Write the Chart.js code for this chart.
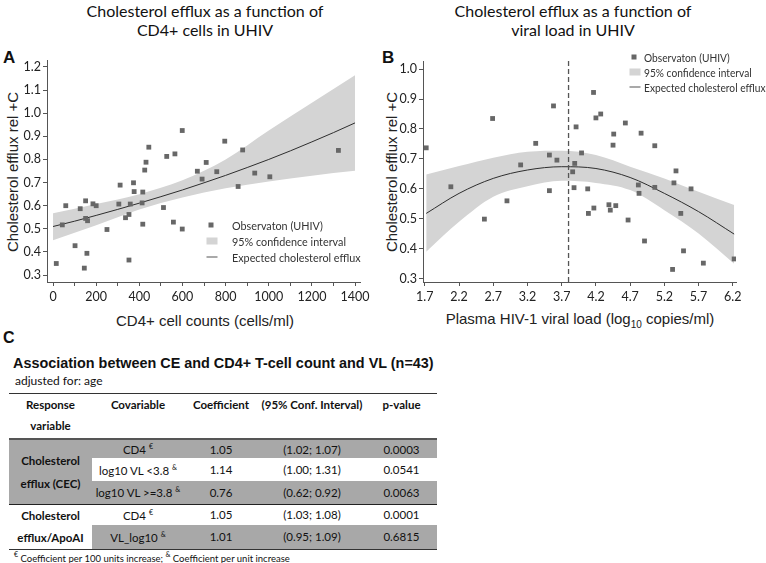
<!DOCTYPE html>
<html>
<head>
<meta charset="utf-8">
<script src="https://cdn.jsdelivr.net/npm/chart.js@4.4.1/dist/chart.umd.min.js"></script>
<style>
  body { margin: 0; background: #fff; width: 766px; height: 563px; position: relative; overflow: hidden; font-family: Lato, sans-serif; color: #111; }
  .abs { position: absolute; white-space: nowrap; }
  .title { font-family: Lato, sans-serif; font-size: 16px; text-align: center; transform: translate(-50%, -50%); line-height: 19px; color: #111; }
  .letter { font-family: "Liberation Sans", Arial, sans-serif; font-weight: bold; font-size: 17px; transform: translateY(-50%); }
  .axtitle { font-family: "Liberation Sans", Arial, sans-serif; font-size: 15px; transform: translate(-50%, -50%); color: #222; }
  .axtitle.v { transform: translate(-50%, -50%) rotate(-90deg); }
  .legend div { position: absolute; white-space: nowrap; font-size: 12px; color: #333; transform-origin: left center; }
  .sw { position: absolute; transform: translate(-50%, -50%); }
  canvas { position: absolute; }
  table { position: absolute; left: 9px; top: 393px; width: 428px; border-collapse: collapse; table-layout: fixed; font-family: Lato, sans-serif; font-size: 11.5px; }
  td, th { padding: 0; text-align: center; }
  th { font-weight: bold; vertical-align: top; height: 44px; line-height: 21px; }
  .g { background: #a8a8a8; }
  .b { font-weight: bold; }
  sup { font-size: 7px; vertical-align: 5px; }
</style>
</head>
<body>

<div class="abs title" style="left:205px; top:20px;">Cholesterol efflux as a function of<br>CD4+ cells in UHIV</div>
<div class="abs title" style="left:573px; top:20px;">Cholesterol efflux as a function of<br>viral load in UHIV</div>

<div class="abs letter" style="left:3px; top:58px;">A</div>
<div class="abs letter" style="left:382px; top:58px;">B</div>

<div class="abs axtitle v" style="left:12px; top:172px;">Cholesterol efflux rel +C</div>
<div class="abs axtitle v" style="left:391px; top:172px;">Cholesterol efflux rel +C</div>
<div class="abs axtitle" style="left:205px; top:320px;">CD4+ cell counts (cells/ml)</div>
<div class="abs axtitle" style="left:580px; top:320px;">Plasma HIV-1 viral load (log<sub style="font-size:10px">10</sub> copies/ml)</div>

<canvas id="chartA" style="left:0px; top:40px;"></canvas>
<canvas id="chartB" style="left:383px; top:40px;"></canvas>

<div class="legend" id="legA"></div>
<div class="legend" id="legB"></div>

<div class="abs letter" style="left:3px; top:338px; font-size:16px;">C</div>
<div class="abs" style="left:13px; top:362px; transform:translateY(-50%) scaleX(0.96); transform-origin:left center; font-family:'Liberation Sans',Arial,sans-serif; font-weight:bold; font-size:15px;">Association between CE and CD4+ T-cell count and VL (n=43)</div>
<div class="abs" style="left:15px; top:380px; transform:translateY(-50%); font-size:12px;">adjusted for: age</div>

<table id="tbl">
  <colgroup><col style="width:83px"><col style="width:92px"><col style="width:74px"><col style="width:108px"><col style="width:71px"></colgroup>
  <thead>
    <tr style="border-top:1.5px solid #333; border-bottom:2px solid #555;">
      <th>Response<br>variable</th><th>Covariable</th><th>Coefficient</th><th>(95% Conf. Interval)</th><th>p-value</th>
    </tr>
  </thead>
  <tbody id="tbody"></tbody>
</table>
<div class="abs" style="left:14px; top:557px; transform:translateY(-50%); font-size:9.5px;"><sup>€</sup> Coefficient per 100 units increase; <sup>&amp;</sup> Coefficient per unit increase</div>

<script>
// panel A: CD4+ cell counts vs cholesterol efflux
const A_CD4 = [15, 43, 59, 102, 126, 145, 151, 151, 157, 160, 185, 200, 250, 305, 311, 336, 352, 352, 358, 373, 376, 413, 416, 416, 425, 431, 444, 512, 527, 558, 565, 599, 599, 669, 691, 710, 759, 796, 858, 879, 935, 1005, 1323]
const A_CE = [0.35, 0.517, 0.60, 0.427, 0.587, 0.33, 0.621, 0.545, 0.394, 0.535, 0.608, 0.60, 0.497, 0.607, 0.689, 0.548, 0.562, 0.365, 0.607, 0.699, 0.661, 0.612, 0.52, 0.659, 0.754, 0.788, 0.853, 0.592, 0.813, 0.529, 0.824, 0.925, 0.499, 0.749, 0.715, 0.787, 0.747, 0.879, 0.683, 0.841, 0.741, 0.725, 0.839]
const A_FIT_X = [0, 100, 200, 300, 400, 500, 600, 700, 800, 900, 1000, 1100, 1200, 1300, 1400]
const A_FIT = [0.51, 0.533, 0.558, 0.584, 0.611, 0.639, 0.668, 0.699, 0.731, 0.765, 0.80, 0.837, 0.876, 0.916, 0.958]
const A_CI_X = [0, 200, 400, 600, 800, 1000, 1200, 1400]
const A_CI_UP = [0.567, 0.607, 0.65, 0.71, 0.80, 0.925, 1.045, 1.164]
const A_CI_LO = [0.451, 0.515, 0.583, 0.635, 0.675, 0.705, 0.73, 0.751]
const A_X_TICKS = [0, 100, 200, 300, 400, 500, 600, 700, 800, 900, 1000, 1100, 1200, 1300, 1400]
const A_Y_TICKS = [0.3, 0.4, 0.5, 0.6, 0.7, 0.8, 0.9, 1.0, 1.1, 1.2]

// panel B: viral load vs cholesterol efflux
const B_VL = [1.72, 2.08, 2.57, 2.69, 2.90, 3.10, 3.32, 3.52, 3.52, 3.58, 3.63, 3.86, 3.88, 3.89, 3.91, 3.99, 4.08, 4.09, 4.165, 4.17, 4.20, 4.27, 4.39, 4.41, 4.45, 4.46, 4.49, 4.63, 4.67, 4.82, 4.83, 4.86, 4.91, 5.06, 5.06, 5.32, 5.34, 5.37, 5.44, 5.48, 5.59, 5.77, 6.22]
const B_CE = [0.737, 0.607, 0.499, 0.835, 0.56, 0.68, 0.752, 0.713, 0.594, 0.877, 0.696, 0.657, 0.604, 0.685, 0.807, 0.72, 0.60, 0.518, 0.922, 0.536, 0.837, 0.85, 0.547, 0.529, 0.746, 0.783, 0.544, 0.82, 0.496, 0.613, 0.585, 0.786, 0.426, 0.744, 0.605, 0.331, 0.62, 0.66, 0.518, 0.393, 0.60, 0.352, 0.366]
const B_FIT_X = [1.72, 2.2, 2.7, 3.2, 3.7, 4.2, 4.7, 5.2, 5.7, 6.22]
const B_FIT = [0.518, 0.585, 0.635, 0.663, 0.674, 0.668, 0.638, 0.585, 0.524, 0.449]
const B_CI_UP = [0.648, 0.676, 0.704, 0.724, 0.727, 0.713, 0.674, 0.635, 0.59, 0.546]
const B_CI_LO = [0.39, 0.49, 0.574, 0.609, 0.627, 0.62, 0.596, 0.529, 0.451, 0.35]
const B_X_TICKS = [1.7, 2.2, 2.7, 3.2, 3.7, 4.2, 4.7, 5.2, 5.7, 6.2]
const B_Y_TICKS = [0.3, 0.4, 0.5, 0.6, 0.7, 0.8, 0.9, 1.0]
const VL_CUT = 3.8

const LEGEND_LABELS = ['Observaton (UHIV)', '95% confidence interval', 'Expected cholesterol efflux']

// panel C table
const TBL_RESPONSE = ['Cholesterol<br>efflux (CEC)', 'Cholesterol<br>efflux/ApoAI']
const TBL_COVAR = ['CD4 <sup>€</sup>', 'log10 VL &lt;3.8 <sup>&amp;</sup>', 'log10 VL &gt;=3.8 <sup>&amp;</sup>', 'CD4 <sup>€</sup>', 'VL_log10 <sup>&amp;</sup>']
const TBL_COEF = ['1.05', '1.14', '0.76', '1.05', '1.01']
const TBL_CI = ['(1.02; 1.07)', '(1.00; 1.31)', '(0.62; 0.92)', '(1.03; 1.08)', '(0.95; 1.09)']
const TBL_P = ['0.0003', '0.0541', '0.0063', '0.0001', '0.6815']

const MARK = '#676767'
const BAND = '#d4d4d4'
const AXIS = '#555555'

function xy(xs, ys) {
    return xs.map((x, i) => ({ x: x, y: ys[i] }))
}

/**
 * @function buildDatasets
 * @description 點、擬合線與信賴區間
*/
function buildDatasets(px, py, fx, fy, cx, up, lo) {
    return [
        { type: 'scatter', data: xy(px, py), pointStyle: 'rect', pointRadius: 3.4, backgroundColor: MARK, borderWidth: 0 },
        { type: 'line', data: xy(fx, fy), borderColor: '#2e2e2e', borderWidth: 1, pointRadius: 0, cubicInterpolationMode: 'monotone', fill: false },
        { type: 'line', data: xy(cx, up), borderWidth: 0, borderColor: 'transparent', pointRadius: 0, cubicInterpolationMode: 'monotone', backgroundColor: BAND, fill: '+1' },
        { type: 'line', data: xy(cx, lo), borderWidth: 0, borderColor: 'transparent', pointRadius: 0, cubicInterpolationMode: 'monotone', fill: false }
    ]
}

function axis(min, max, ticks, fitSize, isX, labelFn) {
    return {
        type: 'linear',
        min: min,
        max: max,
        border: { display: true, color: AXIS, width: 1 },
        grid: { drawOnChartArea: false, drawTicks: true, tickLength: 4, color: AXIS },
        ticks: {
            autoSkip: false,
            maxRotation: 0,
            padding: isX ? 3 : 2,
            color: '#222',
            font: { family: 'Lato', size: 12.5 },
            callback: labelFn
        },
        afterBuildTicks: (scale) => { scale.ticks = ticks.map(v => ({ value: v })) },
        afterFit: (scale) => { if (isX) { scale.height = fitSize } else { scale.width = fitSize } }
    }
}

const cutLine = {
    id: 'cutLine',
    afterDatasetsDraw(chart, args, opts) {
        if (opts.value === undefined) return
        let ctx = chart.ctx
        let x = chart.scales.x.getPixelForValue(opts.value)
        ctx.save()
        ctx.strokeStyle = '#555'
        ctx.lineWidth = 1.3
        ctx.setLineDash([5, 3])
        ctx.beginPath()
        ctx.moveTo(x, chart.chartArea.bottom)
        ctx.lineTo(x, chart.chartArea.top)
        ctx.stroke()
        ctx.restore()
    }
}

function makeChart(id, datasets, xAxis, yAxis, padding, cut) {
    let el = document.getElementById(id)
    el.width = 383
    el.height = 262
    el.style.width = '383px'
    el.style.height = '262px'
    return new Chart(el, {
        type: 'scatter',
        data: { datasets: datasets },
        options: {
            responsive: false,
            animation: false,
            layout: { padding: padding },
            plugins: { legend: { display: false }, tooltip: { enabled: false }, cutLine: { value: cut } },
            scales: { x: xAxis, y: yAxis }
        },
        plugins: [cutLine]
    })
}

makeChart('chartA',
    buildDatasets(A_CD4, A_CE, A_FIT_X, A_FIT, A_CI_X, A_CI_UP, A_CI_LO),
    axis(-28, 1423, A_X_TICKS, 20, true, v => v % 200 === 0 ? String(v) : ''),
    axis(0.27, 1.23, A_Y_TICKS, 47, false, v => v.toFixed(1)),
    { top: 20, right: 23, left: 0, bottom: 0 })

makeChart('chartB',
    buildDatasets(B_VL, B_CE, B_FIT_X, B_FIT, B_FIT_X, B_CI_UP, B_CI_LO),
    axis(1.673, 6.247, B_X_TICKS, 20, true, v => v.toFixed(1)),
    axis(0.289, 1.027, B_Y_TICKS, 40, false, v => v.toFixed(1)),
    { top: 21, right: 30, left: 0, bottom: 0 },
    VL_CUT)

// legends
function buildLegend(id, markX, textX, rows, squeeze) {
    let box = document.getElementById(id)
    let marks = [
        `<span class="sw" style="left:${markX}px; top:${rows[0]}px; width:5px; height:5px; background:${MARK}"></span>`,
        `<span class="sw" style="left:${markX + 1}px; top:${rows[1]}px; width:11px; height:7px; background:${BAND}"></span>`,
        `<span class="sw" style="left:${markX + 1}px; top:${rows[2]}px; width:11px; height:1px; background:#555"></span>`
    ]
    let html = marks.join('')
    LEGEND_LABELS.forEach((t, i) => {
        html += `<div style="left:${textX}px; top:${rows[i]}px; transform:translateY(-50%) scaleX(${squeeze});">${t}</div>`
    })
    box.innerHTML = html
}
buildLegend('legA', 211, 232, [225, 241, 257], 0.9)
buildLegend('legB', 634, 644, [57, 72, 87], 0.85)

// table body
let rowsHtml = ''
const rowH = [19, 23, 23, 21, 23]
for (let i = 0; i < 5; i++) {
    let shade = (i === 0 || i === 2 || i === 4) ? 'g' : ''
    let rule = i === 2 ? 'border-bottom:1.5px solid #222;' : (i === 4 ? 'border-bottom:1.5px solid #333;' : '')
    let first = ''
    if (i === 0) first = `<td rowspan="3" class="g b" style="line-height:23px">${TBL_RESPONSE[0]}</td>`
    if (i === 3) first = `<td rowspan="2" class="b" style="line-height:22px">${TBL_RESPONSE[1]}</td>`
    rowsHtml += `<tr style="height:${rowH[i]}px; ${rule}">${first}` +
        `<td class="${shade}">${TBL_COVAR[i]}</td><td class="${shade}">${TBL_COEF[i]}</td>` +
        `<td class="${shade}">${TBL_CI[i]}</td><td class="${shade}">${TBL_P[i]}</td></tr>`
}
document.getElementById('tbody').innerHTML = rowsHtml
</script>
</body>
</html>
